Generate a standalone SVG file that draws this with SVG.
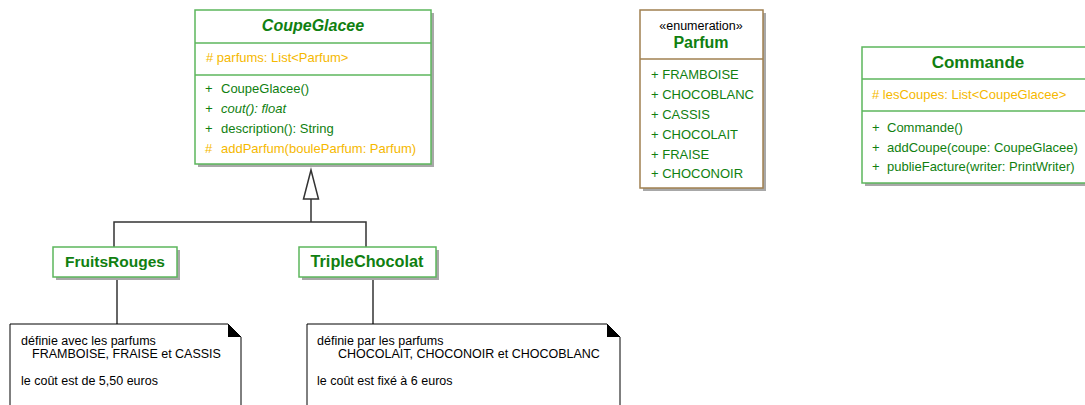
<svg xmlns="http://www.w3.org/2000/svg" width="1085" height="405" viewBox="0 0 1085 405">
<defs>
<style>
.box{fill:#fff;stroke:#5cb65c;stroke-width:1.5}
.ebox{fill:#fff;stroke:#a08050;stroke-width:1.5}
.shadow{fill:#a8a8a8}
.sep{stroke:#5cb65c;stroke-width:1.5}
.esep{stroke:#a08050;stroke-width:1.5}
text{font-family:"Liberation Sans",Arial,sans-serif}
.title{font-weight:bold;fill:#108010;text-anchor:middle}
.m{font-size:13px;fill:#108010}
.a{font-size:13px;fill:#f5b800}
.st{font-size:12.5px;fill:#000;text-anchor:middle}
.note{fill:#fff;stroke:#000;stroke-width:1}
.nt{font-size:12.5px;fill:#000}
.line{stroke:#333;stroke-width:1.5;fill:none}
</style>
</defs>
<g id="connectors">
<polyline class="line" points="114,247 114,222 366,222 366,247"/>
<line class="line" x1="311" y1="222" x2="311" y2="199"/>
<polygon points="311,170 303.5,199 318.5,199" fill="#fff" stroke="#333" stroke-width="1.5"/>
<line class="line" x1="117" y1="278" x2="117" y2="324"/>
<line class="line" x1="373" y1="278" x2="373" y2="324"/>
</g>
<g id="CoupeGlacee">
<rect class="shadow" x="198" y="13" width="236" height="154"/>
<rect class="box" x="195" y="10" width="236" height="154"/>
<line class="sep" x1="195" y1="43" x2="431" y2="43"/>
<line class="sep" x1="195" y1="75" x2="431" y2="75"/>
<text class="title" x="313" y="31" font-size="16" font-style="italic">CoupeGlacee</text>
<text class="a" x="206" y="62"># parfums: List&lt;Parfum&gt;</text>
<text class="m" x="205" y="93">+</text><text class="m" x="221" y="93">CoupeGlacee()</text>
<text class="m" x="205" y="113" font-style="italic">+</text><text class="m" x="221" y="113" font-style="italic">cout(): float</text>
<text class="m" x="205" y="133">+</text><text class="m" x="221" y="133">description(): String</text>
<text class="a" x="205" y="153">#</text><text class="a" x="221" y="153">addParfum(bouleParfum: Parfum)</text>
</g>
<g id="Parfum">
<rect class="shadow" x="643" y="13" width="123" height="178"/>
<rect class="ebox" x="640" y="10" width="123" height="178"/>
<line class="esep" x1="640" y1="59" x2="763" y2="59"/>
<text class="st" x="701" y="30">«enumeration»</text>
<text class="title" x="701" y="48" font-size="16">Parfum</text>
<text class="m" x="651" y="79">+ FRAMBOISE</text>
<text class="m" x="651" y="99">+ CHOCOBLANC</text>
<text class="m" x="651" y="119">+ CASSIS</text>
<text class="m" x="651" y="139">+ CHOCOLAIT</text>
<text class="m" x="651" y="159">+ FRAISE</text>
<text class="m" x="651" y="178">+ CHOCONOIR</text>
</g>
<g id="Commande">
<rect class="shadow" x="865" y="50" width="232" height="136"/>
<rect class="box" x="862" y="47" width="232" height="136"/>
<line class="sep" x1="862" y1="79" x2="1094" y2="79"/>
<line class="sep" x1="862" y1="111" x2="1094" y2="111"/>
<text class="title" x="978" y="68" font-size="17">Commande</text>
<text class="a" x="872" y="99"># lesCoupes: List&lt;CoupeGlacee&gt;</text>
<text class="m" x="872" y="132">+</text><text class="m" x="887" y="132">Commande()</text>
<text class="m" x="872" y="152">+</text><text class="m" x="887" y="152">addCoupe(coupe: CoupeGlacee)</text>
<text class="m" x="872" y="171">+</text><text class="m" x="887" y="171">publieFacture(writer: PrintWriter)</text>
</g>
<g id="FruitsRouges">
<rect class="shadow" x="56" y="250" width="124" height="30"/>
<rect class="box" x="53" y="247" width="124" height="30"/>
<text class="title" x="115" y="267" font-size="15.5">FruitsRouges</text>
</g>
<g id="TripleChocolat">
<rect class="shadow" x="302" y="250" width="137" height="30"/>
<rect class="box" x="299" y="247" width="137" height="30"/>
<text class="title" x="367" y="267" font-size="16" textLength="113" lengthAdjust="spacingAndGlyphs">TripleChocolat</text>
</g>
<g id="note1">
<path class="note" d="M10,324 H228 L241,337 V410 H10 Z"/>
<polygon points="228,324 241,337 228,337" fill="#000"/>
<text class="nt" x="21" y="345">définie avec les parfums</text>
<text class="nt" x="32" y="358">FRAMBOISE, FRAISE et CASSIS</text>
<text class="nt" x="21" y="385">le coût est de 5,50 euros</text>
</g>
<g id="note2">
<path class="note" d="M307,324 H607 L620,337 V410 H307 Z"/>
<polygon points="607,324 620,337 607,337" fill="#000"/>
<text class="nt" x="317" y="345">définie par les parfums</text>
<text class="nt" x="338" y="358">CHOCOLAIT, CHOCONOIR et CHOCOBLANC</text>
<text class="nt" x="317" y="385">le coût est fixé à 6 euros</text>
</g>
</svg>
